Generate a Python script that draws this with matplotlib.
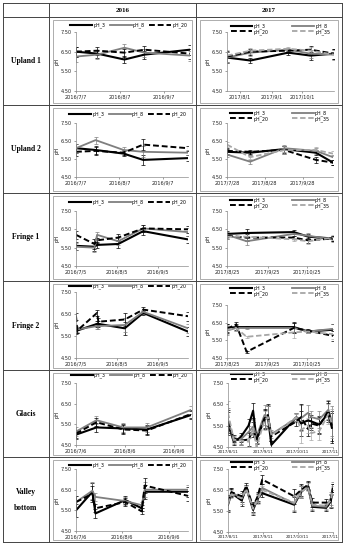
import matplotlib
matplotlib.use("Agg")
import matplotlib.pyplot as plt
import matplotlib.dates as mdates
from matplotlib.lines import Line2D
from matplotlib.patches import Rectangle
from matplotlib.ticker import FuncFormatter
import pandas as pd

W, H = 345, 550  # figure size in pixels

# ---- data ----
row_names = ['Upland 1', 'Upland 2', 'Fringe 1', 'Fringe 2', 'Glacis', 'Valley\n\nbottom']
years = ['2016', '2017']

# Upland 1
u1a_dates = ['2016-07-07', '2016-07-22', '2016-08-10', '2016-08-24', '2016-09-25']
u1a_ph3 = [6.50, 6.40, 6.10, 6.35, 6.60]
u1a_ph8 = [6.25, 6.35, 6.70, 6.45, 6.30]
u1a_ph20 = [6.50, 6.55, 6.45, 6.60, 6.40]
u1a_err = [0.25, 0.20, 0.20, 0.20, 0.25]
u1a_ticks = ['2016-07-07', '2016-08-07', '2016-09-07']

u1b_dates = ['2017-07-19', '2017-08-11', '2017-09-17', '2017-10-09', '2017-11-01']
u1b_ph3 = [6.20, 6.05, 6.45, 6.30, 6.40]
u1b_ph8 = [6.20, 6.45, 6.60, 6.40, 6.35]
u1b_ph20 = [6.25, 6.50, 6.55, 6.60, 6.40]
u1b_ph35 = [6.30, 6.55, 6.65, 6.55, 6.35]
u1b_err = [0.30, 0.15, 0.10, 0.20, 0.25]
u1b_ticks = ['2017-08-01', '2017-09-01', '2017-10-01']

# Upland 2
u2a_dates = ['2016-07-07', '2016-07-21', '2016-08-10', '2016-08-24', '2016-09-25']
u2a_ph3 = [6.10, 6.00, 5.80, 5.45, 5.55]
u2a_ph8 = [6.10, 6.55, 6.00, 5.90, 5.85]
u2a_ph20 = [5.90, 5.95, 5.85, 6.30, 6.10]
u2a_err = [0.25, 0.20, 0.15, 0.30, 0.15]
u2a_ticks = ['2016-07-07', '2016-08-07', '2016-09-07']

u2b_dates = ['2017-07-28', '2017-08-16', '2017-09-13', '2017-10-09', '2017-10-23']
u2b_ph3 = [5.90, 5.85, 6.05, 5.85, 5.30]
u2b_ph8 = [5.75, 5.35, 6.10, 5.95, 5.60]
u2b_ph20 = [5.95, 5.90, 6.00, 5.45, 5.30]
u2b_ph35 = [6.30, 5.60, 6.00, 6.00, 5.80]
u2b_err = [0.15, 0.10, 0.20, 0.15, 0.15]
u2b_ticks = ['2017-07-28', '2017-08-28', '2017-09-28']

# Fringe 1
f1a_dates = ['2016-07-05', '2016-07-19', '2016-07-21', '2016-08-06', '2016-08-25', '2016-09-28']
f1a_ph3 = [5.60, 5.55, 5.65, 5.70, 6.40, 5.95]
f1a_ph8 = [5.55, 5.50, 6.20, 5.85, 6.55, 6.35]
f1a_ph20 = [6.20, 5.70, 5.90, 6.05, 6.55, 6.50]
f1a_err = [0.20, 0.25, 0.15, 0.20, 0.20, 0.20]
f1a_ticks = ['2016-07-05', '2016-08-05', '2016-09-05']

f1b_dates = ['2017-08-25', '2017-09-09', '2017-10-15', '2017-10-26', '2017-11-14']
f1b_ph3 = [6.25, 6.30, 6.35, 6.10, 6.00]
f1b_ph8 = [6.20, 5.85, 6.25, 6.15, 5.95]
f1b_ph20 = [6.15, 6.05, 6.05, 5.90, 6.00]
f1b_ph35 = [6.10, 6.10, 5.95, 5.85, 6.05]
f1b_err = [0.15, 0.20, 0.10, 0.15, 0.15]
f1b_ticks = ['2017-08-25', '2017-09-25', '2017-10-25']

# Fringe 2
f2a_dates = ['2016-07-05', '2016-07-06', '2016-07-21', '2016-07-22', '2016-08-11', '2016-08-25', '2016-09-28']
f2a_ph3 = [5.75, 5.75, 6.05, 6.05, 5.85, 6.55, 5.70]
f2a_ph8 = [5.80, 5.80, 5.95, 5.95, 6.00, 6.60, 5.85]
f2a_ph20 = [6.40, 5.75, 6.55, 6.15, 6.25, 6.70, 6.40]
f2a_err = [0.15, 0.10, 0.15, 0.15, 0.30, 0.10, 0.20]
f2a_ticks = ['2016-07-05', '2016-08-05', '2016-09-05']

f2b_dates = ['2017-08-25', '2017-09-01', '2017-09-09', '2017-10-15', '2017-10-26', '2017-11-14']
f2b_ph3 = [6.20, 6.25, 6.25, 6.25, 6.00, 6.10]
f2b_ph8 = [6.05, 6.20, 6.20, 6.20, 6.00, 6.15]
f2b_ph20 = [6.15, 6.40, 4.85, 6.20, 6.05, 5.75]
f2b_ph35 = [6.10, 6.20, 5.70, 5.95, 6.00, 5.85]
f2b_err = [0.25, 0.15, 0.05, 0.30, 0.10, 0.30]
f2b_ticks = ['2017-08-25', '2017-09-25', '2017-10-25']

# Glacis
ga_dates = ['2016-07-06', '2016-07-19', '2016-08-05', '2016-08-20', '2016-09-17']
ga_ph3 = [5.00, 5.35, 5.30, 5.25, 5.95]
ga_ph8 = [5.15, 5.70, 5.35, 5.35, 6.20]
ga_ph20 = [5.05, 5.60, 5.25, 5.20, 6.00]
ga_err = [0.20, 0.20, 0.20, 0.20, 0.20]
ga_ticks = ['2016-07-06', '2016-08-06', '2016-09-06']

gb_dates = ['2017-08-11', '2017-08-16', '2017-08-22', '2017-08-29', '2017-09-02', '2017-09-05',
            '2017-09-12', '2017-09-15', '2017-09-18', '2017-10-10', '2017-10-14', '2017-10-20',
            '2017-10-23', '2017-10-30', '2017-11-07', '2017-11-10']
gb_ph3 = [5.60, 4.75, 4.95, 5.50, 6.20, 4.85, 5.80, 5.90, 4.60, 5.90, 5.60, 5.75, 5.70, 5.55, 6.10, 5.40]
gb_ph8 = [5.80, 4.80, 4.85, 5.20, 5.45, 5.00, 6.00, 5.95, 5.10, 5.85, 5.85, 6.10, 5.90, 5.80, 6.25, 5.70]
gb_ph20 = [5.70, 4.90, 4.80, 4.85, 5.30, 4.90, 5.85, 6.00, 5.00, 5.70, 5.90, 5.35, 5.60, 5.50, 6.20, 5.50]
gb_ph35 = [6.10, 4.85, 4.80, 4.75, 5.40, 4.50, 5.75, 5.90, 5.05, 5.90, 5.30, 5.50, 5.15, 5.25, 6.05, 5.60]
gb_err = [0.55, 0.15, 0.20, 0.30, 0.35, 0.20, 0.45, 0.50, 0.20, 0.20, 0.60, 0.35, 0.30, 0.40, 0.45, 0.70]
gb_ticks = ['2017-08-11', '2017-09-11', '2017-10-11', '2017-11-11']

# Valley bottom
va_dates = ['2016-07-06', '2016-07-17', '2016-07-19', '2016-08-08', '2016-08-19', '2016-08-21', '2016-09-19']
va_ph3 = [5.50, 6.40, 5.35, 6.00, 5.60, 6.40, 6.40]
va_ph8 = [5.90, 6.45, 6.15, 5.95, 5.75, 6.50, 6.50]
va_ph20 = [5.90, 6.30, 5.60, 5.90, 5.45, 6.70, 6.20]
va_err = [0.30, 0.40, 0.20, 0.20, 0.15, 0.35, 0.25]
va_ticks = ['2016-07-06', '2016-08-06', '2016-09-06']

vb_dates = ['2017-08-11', '2017-08-14', '2017-08-23', '2017-08-27', '2017-09-02', '2017-09-06',
            '2017-09-10', '2017-10-08', '2017-10-14', '2017-10-20', '2017-10-24', '2017-11-05',
            '2017-11-09', '2017-11-11']
vb_ph3 = [5.80, 6.35, 6.00, 6.60, 5.55, 6.10, 6.35, 5.80, 6.40, 6.70, 5.70, 5.65, 5.95, 6.60]
vb_ph8 = [5.85, 6.40, 6.10, 6.60, 5.65, 6.15, 6.60, 5.85, 6.45, 6.70, 5.75, 5.70, 6.10, 6.70]
vb_ph20 = [5.90, 6.40, 6.20, 6.70, 5.70, 6.20, 7.00, 6.20, 6.50, 6.75, 5.90, 5.90, 6.00, 6.60]
vb_ph35 = [5.85, 6.30, 6.10, 6.55, 5.60, 6.05, 6.50, 5.90, 6.40, 6.65, 5.80, 5.75, 6.00, 6.50]
vb_err = [0.35, 0.20, 0.25, 0.15, 0.25, 0.20, 0.20, 0.35, 0.30, 0.20, 0.20, 0.15, 0.30, 0.20]
vb_ticks = ['2017-08-11', '2017-09-11', '2017-10-11', '2017-11-11']

# ---- figure / layout helpers ----
fig = plt.figure(figsize=(W / 100, H / 100), dpi=100)


def fx(x):
    return x / W


def fy(y):
    return 1 - y / H


def hline(y, x0, x1):
    fig.add_artist(Line2D([fx(x0), fx(x1)], [fy(y), fy(y)], color='#444444', lw=0.7))


def vline(x, y0, y1):
    fig.add_artist(Line2D([fx(x), fx(x)], [fy(y0), fy(y1)], color='#444444', lw=0.7))


# table grid
row_edges = [17, 105, 193, 281, 370, 457, 542]
left, col1, col2, right, top = 3, 49, 196, 342, 3
hline(top, left, right)
for y in row_edges:
    hline(y, left, right)
vline(left, top, row_edges[-1])
vline(col1, top, row_edges[-1])
vline(col2, top, row_edges[-1])
vline(right, top, row_edges[-1])

serif = ['Liberation Serif', 'DejaVu Serif']
fig.text(fx((col1 + col2) / 2), fy(10), '2016', ha='center', va='center',
         fontsize=5, fontweight='bold', family=serif)
fig.text(fx((col2 + right) / 2), fy(10), '2017', ha='center', va='center',
         fontsize=5, fontweight='bold', family=serif)
for i, name in enumerate(row_names):
    fig.text(fx((left + col1) / 2), fy((row_edges[i] + row_edges[i + 1]) / 2), name,
             ha='center', va='center', fontsize=5.5, fontweight='bold', family=serif,
             linespacing=1.0)

styles = {
    'pH_3': dict(color='black', lw=1.5, ls='-'),
    'pH_8': dict(color='#7f7f7f', lw=1.3, ls='-'),
    'pH_20': dict(color='black', lw=1.4, ls=(0, (3, 1.5))),
    'pH_35': dict(color='#a6a6a6', lw=1.3, ls=(0, (3, 1.5))),
}

# plot area in pixels: (left, top(7.5), right, bottom(4.5))
charts = [
    # row, col, dates, series, err, ticks, plot-area, legend y (px)
    (0, 0, u1a_dates, [u1a_ph3, u1a_ph8, u1a_ph20], u1a_err, u1a_ticks, (76, 32, 190, 91), 25),
    (0, 1, u1b_dates, [u1b_ph3, u1b_ph8, u1b_ph20, u1b_ph35], u1b_err, u1b_ticks, (227, 32, 334, 91), 29),
    (1, 0, u2a_dates, [u2a_ph3, u2a_ph8, u2a_ph20], u2a_err, u2a_ticks, (76, 123, 188, 177), 114),
    (1, 1, u2b_dates, [u2b_ph3, u2b_ph8, u2b_ph20, u2b_ph35], u2b_err, u2b_ticks, (227, 123, 333, 177), 116),
    (2, 0, f1a_dates, [f1a_ph3, f1a_ph8, f1a_ph20], f1a_err, f1a_ticks, (76, 211, 188, 266), 202),
    (2, 1, f1b_dates, [f1b_ph3, f1b_ph8, f1b_ph20, f1b_ph35], f1b_err, f1b_ticks, (227, 211, 333, 266), 203),
    (3, 0, f2a_dates, [f2a_ph3, f2a_ph8, f2a_ph20], f2a_err, f2a_ticks, (76, 292, 188, 358), 286),
    (3, 1, f2b_dates, [f2b_ph3, f2b_ph8, f2b_ph20, f2b_ph35], f2b_err, f2b_ticks, (227, 305, 333, 358), 291),
    (4, 0, ga_dates, [ga_ph3, ga_ph8, ga_ph20], ga_err, ga_ticks, (76, 383, 191, 445), 375),
    (4, 1, gb_dates, [gb_ph3, gb_ph8, gb_ph20, gb_ph35], gb_err, gb_ticks, (228, 383, 333, 447), 377),
    (5, 0, va_dates, [va_ph3, va_ph8, va_ph20], va_err, va_ticks, (76, 469, 188, 531), 465),
    (5, 1, vb_dates, [vb_ph3, vb_ph8, vb_ph20, vb_ph35], vb_err, vb_ticks, (228, 469, 333, 532), 465),
]

names = ['pH_3', 'pH_8', 'pH_20', 'pH_35']
date_fmt = FuncFormatter(lambda v, p: '{0.year}/{0.month}/{0.day}'.format(mdates.num2date(v)))

for row, col, dates, series, err, ticks, (l, t, r, b), leg_y in charts:
    cx0 = col1 if col == 0 else col2
    cx1 = col2 if col == 0 else right
    by0 = row_edges[row] + 3
    by1 = row_edges[row + 1] - 2
    box = Rectangle((fx(cx0 + 4), fy(by1)), fx(cx1 - cx0 - 8), (by1 - by0) / H,
                    transform=fig.transFigure, fill=False, ec='#a0a0a0', lw=0.6)
    fig.add_artist(box)

    ax = fig.add_axes([fx(l), fy(b), (r - l) / W, (b - t) / H])
    ax.patch.set_alpha(0)
    x = pd.to_datetime(dates)
    for name, vals in zip(names, series):
        st = styles[name]
        ax.errorbar(x, vals, yerr=err, color=st['color'], lw=st['lw'], ls=st['ls'],
                    elinewidth=0.5, capsize=1.2, capthick=0.5, label=name)
    ax.set_ylim(4.5, 7.5)
    ax.set_yticks([4.5, 5.5, 6.5, 7.5])
    ax.yaxis.set_major_formatter(FuncFormatter(lambda v, p: '%.2f' % v))
    ax.set_xlim(pd.Timestamp(dates[0]), pd.Timestamp(dates[-1]))
    ax.set_xticks(pd.to_datetime(ticks))
    ax.xaxis.set_major_formatter(date_fmt)
    small = row >= 4 and col == 1
    ax.tick_params(axis='x', labelsize=3.0 if small else 3.6, length=1.5, width=0.4, pad=1.0,
                   colors='#555555', labelcolor='#222222')
    ax.tick_params(axis='y', labelsize=3.6, length=1.5, width=0.4, pad=1.5,
                   colors='#555555', labelcolor='#222222')
    for s in ['top', 'right']:
        ax.spines[s].set_visible(False)
    for s in ['left', 'bottom']:
        ax.spines[s].set_color('#8c8c8c')
        ax.spines[s].set_linewidth(0.5)
    ax.set_ylabel('pH', fontsize=3.6, labelpad=1)
    if small:
        # the last date label runs past the chart frame in the original
        for lab in ax.get_xticklabels():
            lab.set_clip_on(True)
            lab.set_clip_path(box)

    handles, labels = ax.get_legend_handles_labels()
    handles = [h[0] for h in handles]
    if col == 0:
        ax.legend(handles, labels, loc='center', ncol=3, frameon=False, fontsize=3.4,
                  handlelength=4.6, columnspacing=0.9, handletextpad=0.3,
                  borderpad=0.1, bbox_to_anchor=(fx((l + r) / 2 - 4), fy(leg_y)),
                  bbox_transform=fig.transFigure)
    else:
        order = [0, 2, 1, 3]
        ax.legend([handles[i] for i in order], [labels[i] for i in order], loc='center', ncol=2,
                  frameon=False, fontsize=3.4, handlelength=4.6, columnspacing=5.0,
                  handletextpad=0.3, labelspacing=0.05, borderpad=0.1,
                  bbox_to_anchor=(fx((l + r) / 2), fy(leg_y)), bbox_transform=fig.transFigure)

fig.savefig('out.png', dpi=100)
